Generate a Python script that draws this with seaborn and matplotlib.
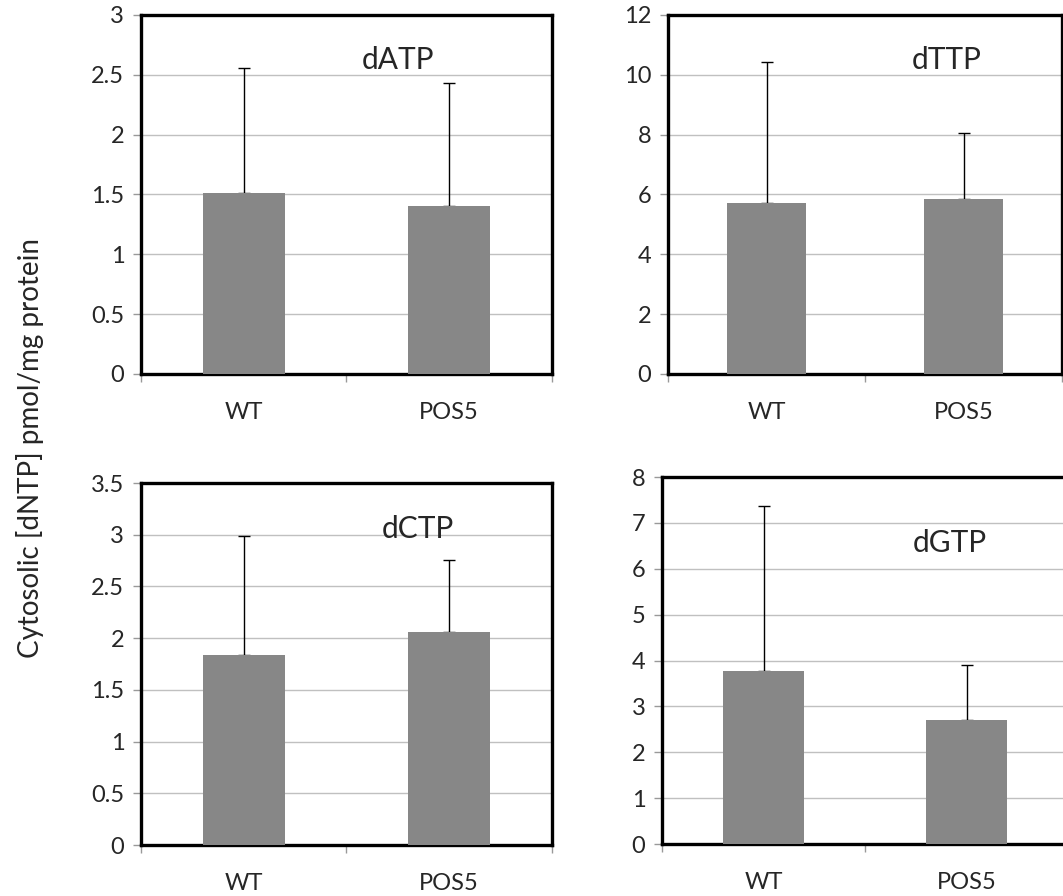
import numpy as np
import pandas as pd
import seaborn as sns
import matplotlib.pyplot as plt
from matplotlib.ticker import FuncFormatter

sns.set_theme(style="white")
plt.rcParams["font.family"] = ["Lato", "DejaVu Sans"]

groups = ["WT", "POS5"]
titles = ["dATP", "dTTP", "dCTP", "dGTP"]
means = {
    "dATP": [1.51, 1.40],
    "dTTP": [5.70, 5.85],
    "dCTP": [1.84, 2.06],
    "dGTP": [3.78, 2.70],
}
upper = {
    "dATP": [2.56, 2.43],
    "dTTP": [10.43, 8.05],
    "dCTP": [2.99, 2.76],
    "dGTP": [7.37, 3.90],
}
ymax = {"dATP": 3, "dTTP": 12, "dCTP": 3.5, "dGTP": 8}
ystep = {"dATP": 0.5, "dTTP": 2, "dCTP": 0.5, "dGTP": 1}

# axes boxes in figure fractions, and label positions in axes coords
boxes = {
    "dATP": [0.1326, 0.5826, 0.3866, 0.4007],
    "dTTP": [0.6284, 0.5826, 0.3707, 0.4007],
    "dCTP": [0.1326, 0.0569, 0.3866, 0.4040],
    "dGTP": [0.6228, 0.0580, 0.3820, 0.4096],
}
label_pos = {
    "dATP": (0.625, 0.875),
    "dTTP": (0.708, 0.875),
    "dCTP": (0.674, 0.873),
    "dGTP": (0.709, 0.82),
}

fig = plt.figure(figsize=(10.63, 8.96), dpi=100)


def fmt(v, pos):
    return f"{v:g}"


for name in titles:
    ax = fig.add_axes(boxes[name])
    df = pd.DataFrame({"group": groups, "value": means[name]})
    sns.barplot(data=df, x="group", y="value", ax=ax, color="#878787",
                saturation=1, width=0.4, errorbar=None, linewidth=0, zorder=3)
    err = np.array(upper[name]) - np.array(means[name])
    ax.errorbar(np.arange(len(groups)), means[name],
                yerr=[np.zeros(len(err)), err], fmt="none",
                ecolor="black", elinewidth=1, capsize=4, capthick=1, zorder=2)
    ax.set_ylim(0, ymax[name])
    ax.set_xlim(-0.5, 1.5)
    ax.set_yticks(np.arange(0, ymax[name] + 1e-9, ystep[name]))
    ax.yaxis.set_major_formatter(FuncFormatter(fmt))
    ax.yaxis.grid(True, color="#c0c0c0", linewidth=1, zorder=0)
    ax.set_axisbelow(True)
    ax.set_xlabel("")
    ax.set_ylabel("")
    for s in ax.spines.values():
        s.set_visible(True)
        s.set_color("black")
        s.set_linewidth(2.4)
    ax.tick_params(axis="y", which="major", left=True, length=6, width=1,
                   color="#999999", labelsize=17, pad=6)
    ax.tick_params(axis="x", which="major", bottom=False, labelsize=17, pad=14)
    ax.set_xticks([-0.5, 0.5, 1.5], minor=True)
    ax.tick_params(axis="x", which="minor", bottom=True, length=6, width=1,
                   color="#999999")
    ax.text(*label_pos[name], name, transform=ax.transAxes, ha="center",
            va="center", fontsize=21.5, zorder=5)

fig.text(0.028, 0.5, "Cytosolic [dNTP] pmol/mg protein", rotation=90,
         ha="center", va="center", fontsize=20)

fig.savefig("out.png", dpi=100)
